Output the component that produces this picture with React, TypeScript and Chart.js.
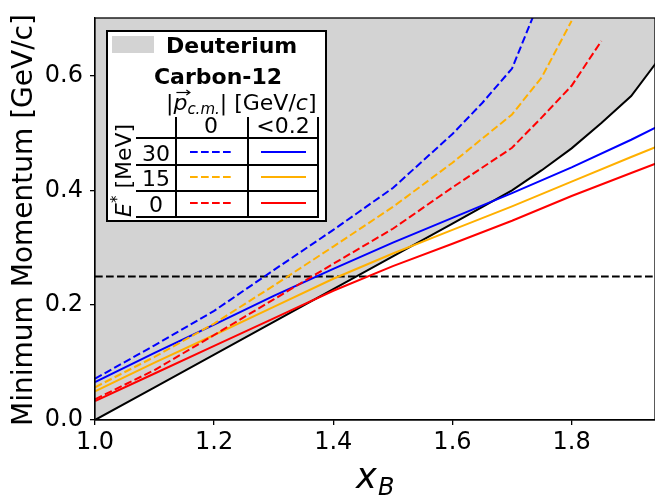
import React, { useEffect, useRef } from "react";
import { Chart, registerables } from "chart.js";

Chart.register(...registerables);

// ---- Data ----
const xGrid = [1.0, 1.1, 1.2, 1.3, 1.4, 1.5, 1.6, 1.7, 1.8, 1.9, 1.95];

const deutX = [1.0, 1.1, 1.2, 1.3, 1.4, 1.5, 1.6, 1.7, 1.75, 1.8, 1.85, 1.9, 1.95];
const deutY = [0.0, 0.057, 0.114, 0.171, 0.228, 0.285, 0.342, 0.4, 0.435, 0.473, 0.517, 0.564, 0.633];

const blueSolid = [0.066, 0.117, 0.166, 0.216, 0.263, 0.309, 0.352, 0.395, 0.44, 0.488, 0.514];
const orangeSolid = [0.05, 0.1, 0.148, 0.197, 0.246, 0.29, 0.331, 0.372, 0.415, 0.458, 0.479];
const redSolid = [0.033, 0.081, 0.129, 0.177, 0.225, 0.268, 0.307, 0.347, 0.39, 0.43, 0.45];

const blueDashX = [1.0, 1.1, 1.2, 1.3, 1.4, 1.5, 1.6, 1.65, 1.7, 1.75];
const blueDashY = [0.072, 0.13, 0.19, 0.261, 0.331, 0.404, 0.498, 0.552, 0.612, 0.74];

const orangeDashX = [1.0, 1.1, 1.2, 1.3, 1.4, 1.5, 1.6, 1.7, 1.75, 1.8];
const orangeDashY = [0.057, 0.11, 0.168, 0.234, 0.302, 0.371, 0.448, 0.532, 0.597, 0.695];

const redDashX = [1.0, 1.1, 1.2, 1.3, 1.4, 1.5, 1.6, 1.7, 1.75, 1.8, 1.85];
const redDashY = [0.036, 0.087, 0.148, 0.21, 0.272, 0.333, 0.405, 0.474, 0.527, 0.582, 0.66];

const thresholdX = [1.0, 1.95];
const thresholdY = [0.25, 0.25];

const legendRows = ["30", "15", "0"];
const legendCols = ["0", "<0.2"];

const BLUE = "#0000ff";
const ORANGE = "#ffb000";
const RED = "#ff0000";
const GRAY = "#d3d3d3";
const FONT = "'DejaVu Sans', 'Liberation Sans', sans-serif";
const DASH = [7.7, 3.3];

const pts = (xs: number[], ys: number[]) => xs.map((x, i) => ({ x, y: ys[i] }));

type Seg = { t: string; font: string; dy?: number };
function drawSegs(ctx: CanvasRenderingContext2D, x: number, y: number, segs: Seg[]) {
  for (const s of segs) {
    ctx.font = s.font;
    ctx.fillText(s.t, x, y + (s.dy || 0));
    x += ctx.measureText(s.t).width;
  }
  return x;
}

const framePlugin = {
  id: "frame",
  afterDatasetsDraw(chart: any) {
    const { ctx, chartArea: a } = chart;
    ctx.save();
    ctx.strokeStyle = "#000";
    ctx.lineWidth = 1.3;
    ctx.strokeRect(a.left, a.top, a.right - a.left, a.bottom - a.top);
    ctx.restore();
  },
};

const annotPlugin = {
  id: "annot",
  afterDraw(chart: any) {
    const ctx: CanvasRenderingContext2D = chart.ctx;
    ctx.save();
    ctx.fillStyle = "#000";
    ctx.textBaseline = "alphabetic";

    // Y title
    ctx.save();
    ctx.translate(32, 220);
    ctx.rotate(-Math.PI / 2);
    ctx.textAlign = "center";
    ctx.font = `28px ${FONT}`;
    ctx.fillText("Minimum Momentum [GeV/c]", 0, 0);
    ctx.restore();

    // X title x_B
    ctx.textAlign = "left";
    ctx.font = `italic 35px ${FONT}`;
    ctx.fillText("x", 356, 488);
    ctx.font = `italic 24px ${FONT}`;
    ctx.fillText("B", 378, 495);

    // Legend box
    const bx = 107, by = 31, bw = 219, bh = 190;
    ctx.fillStyle = "#fff";
    ctx.fillRect(bx, by, bw, bh);
    ctx.strokeStyle = "#000";
    ctx.lineWidth = 2;
    ctx.strokeRect(bx, by, bw, bh);

    ctx.fillStyle = GRAY;
    ctx.fillRect(112, 36, 42, 17);

    ctx.fillStyle = "#000";
    ctx.font = `bold 22px ${FONT}`;
    ctx.fillText("Deuterium", 166, 53);
    ctx.textAlign = "center";
    ctx.fillText("Carbon-12", 218, 84);

    // |p_cm| [GeV/c]
    ctx.textAlign = "left";
    const f22 = `22px ${FONT}`;
    const i22 = `italic 22px ${FONT}`;
    const i15 = `italic 15px ${FONT}`;
    ctx.font = f22;
    const barW = ctx.measureText("|").width;
    ctx.font = i22;
    const pW = ctx.measureText("p").width;
    const px0 = 166 + barW;
    drawSegs(ctx, 166, 110, [
      { t: "|", font: f22 },
      { t: "p", font: i22 },
      { t: "c.m.", font: i15, dy: 4 },
      { t: "|", font: f22 },
      { t: " [GeV/", font: f22 },
      { t: "c", font: i22 },
      { t: "]", font: f22 },
    ]);
    // vector arrow above p
    ctx.strokeStyle = "#000";
    ctx.lineWidth = 1.2;
    ctx.beginPath();
    ctx.moveTo(px0 + 3, 92.5);
    ctx.lineTo(px0 + pW + 2, 92.5);
    ctx.stroke();
    ctx.beginPath();
    ctx.moveTo(px0 + pW - 1, 90);
    ctx.lineTo(px0 + pW + 2.5, 92.5);
    ctx.lineTo(px0 + pW - 1, 95);
    ctx.stroke();

    // table lines
    ctx.lineWidth = 2;
    ctx.beginPath();
    for (const vx of [176, 248, 318]) {
      ctx.moveTo(vx, 117);
      ctx.lineTo(vx, 218);
    }
    for (const hy of [138, 165, 191, 217]) {
      ctx.moveTo(136, hy);
      ctx.lineTo(318, hy);
    }
    ctx.stroke();

    // headers
    ctx.font = f22;
    ctx.textAlign = "center";
    ctx.fillText(legendCols[0], 211, 133);
    ctx.fillText(legendCols[1], 283, 133);
    const rowY = [152, 177, 203];
    const rowBase = [161, 186, 212];
    const cols = [BLUE, ORANGE, RED];
    legendRows.forEach((r, i) => {
      ctx.fillStyle = "#000";
      ctx.fillText(r, 156, rowBase[i]);
      ctx.strokeStyle = cols[i];
      ctx.lineWidth = 2;
      ctx.setLineDash(DASH);
      ctx.beginPath();
      ctx.moveTo(190, rowY[i]);
      ctx.lineTo(233, rowY[i]);
      ctx.stroke();
      ctx.setLineDash([]);
      ctx.beginPath();
      ctx.moveTo(261, rowY[i]);
      ctx.lineTo(306, rowY[i]);
      ctx.stroke();
    });

    // E* [MeV] rotated
    ctx.save();
    ctx.translate(131, 217);
    ctx.rotate(-Math.PI / 2);
    ctx.textAlign = "left";
    ctx.fillStyle = "#000";
    drawSegs(ctx, 0, 0, [
      { t: "E", font: i22 },
      { t: "*", font: `15px ${FONT}`, dy: -9 },
      { t: " [MeV]", font: f22 },
    ]);
    ctx.restore();

    ctx.restore();
  },
};

export default function App() {
  const ref = useRef<HTMLCanvasElement | null>(null);
  useEffect(() => {
    if (!ref.current) return;
    const line = (data: any, color: string, dashed: boolean, extra: any = {}) => ({
      data,
      borderColor: color,
      borderWidth: 2,
      borderDash: dashed ? DASH : [],
      pointRadius: 0,
      tension: 0,
      fill: false,
      ...extra,
    });
    const chart = new Chart(ref.current, {
      type: "line",
      data: {
        datasets: [
          line(pts(blueDashX, blueDashY), BLUE, true),
          line(pts(orangeDashX, orangeDashY), ORANGE, true),
          line(pts(redDashX, redDashY), RED, true),
          line(pts(xGrid, blueSolid), BLUE, false),
          line(pts(xGrid, orangeSolid), ORANGE, false),
          line(pts(xGrid, redSolid), RED, false),
          line(pts(thresholdX, thresholdY), "#000", true),
          line(pts(deutX, deutY), "#000", false, { fill: "end", backgroundColor: GRAY }),
        ] as any,
      },
      options: {
        animation: false,
        responsive: false,
        devicePixelRatio: 1,
        layout: { padding: { top: 18, left: 0, right: 0, bottom: 0 } },
        plugins: {
          legend: { display: false },
          tooltip: { enabled: false },
          filler: { drawTime: "beforeDatasetsDraw" } as any,
        },
        scales: {
          x: {
            type: "linear",
            min: 1.0,
            max: 1.94,
            ticks: {
              stepSize: 0.2,
              includeBounds: false,
              color: "#000",
              font: { family: FONT, size: 24 },
              padding: 3,
              maxRotation: 0,
              callback: (v: any) => Number(v).toFixed(1),
            },
            grid: { drawOnChartArea: false, drawTicks: true, tickLength: 5, color: "#000", lineWidth: 1.3 },
            border: { display: true, color: "#000", width: 1.3 },
            afterFit: (s: any) => {
              s.height = 79;
              s.paddingLeft = 0;
              s.paddingRight = 0;
            },
          },
          y: {
            type: "linear",
            min: 0,
            max: 0.7,
            ticks: {
              stepSize: 0.2,
              includeBounds: false,
              color: "#000",
              font: { family: FONT, size: 24 },
              padding: 7,
              callback: (v: any) => Number(v).toFixed(1),
            },
            grid: { drawOnChartArea: false, drawTicks: true, tickLength: 5, color: "#000", lineWidth: 1.3 },
            border: { display: true, color: "#000", width: 1.3 },
            afterFit: (s: any) => {
              s.width = 95;
              s.paddingTop = 0;
              s.paddingBottom = 0;
            },
          },
        },
      } as any,
      plugins: [framePlugin, annotPlugin],
    });
    return () => chart.destroy();
  }, []);
  return (
    <div style={{ position: "fixed", left: 0, top: 0, width: 655, height: 499, background: "#fff" }}>
      <canvas ref={ref} width={655} height={499} style={{ display: "block", width: 655, height: 499 }} />
    </div>
  );
}
